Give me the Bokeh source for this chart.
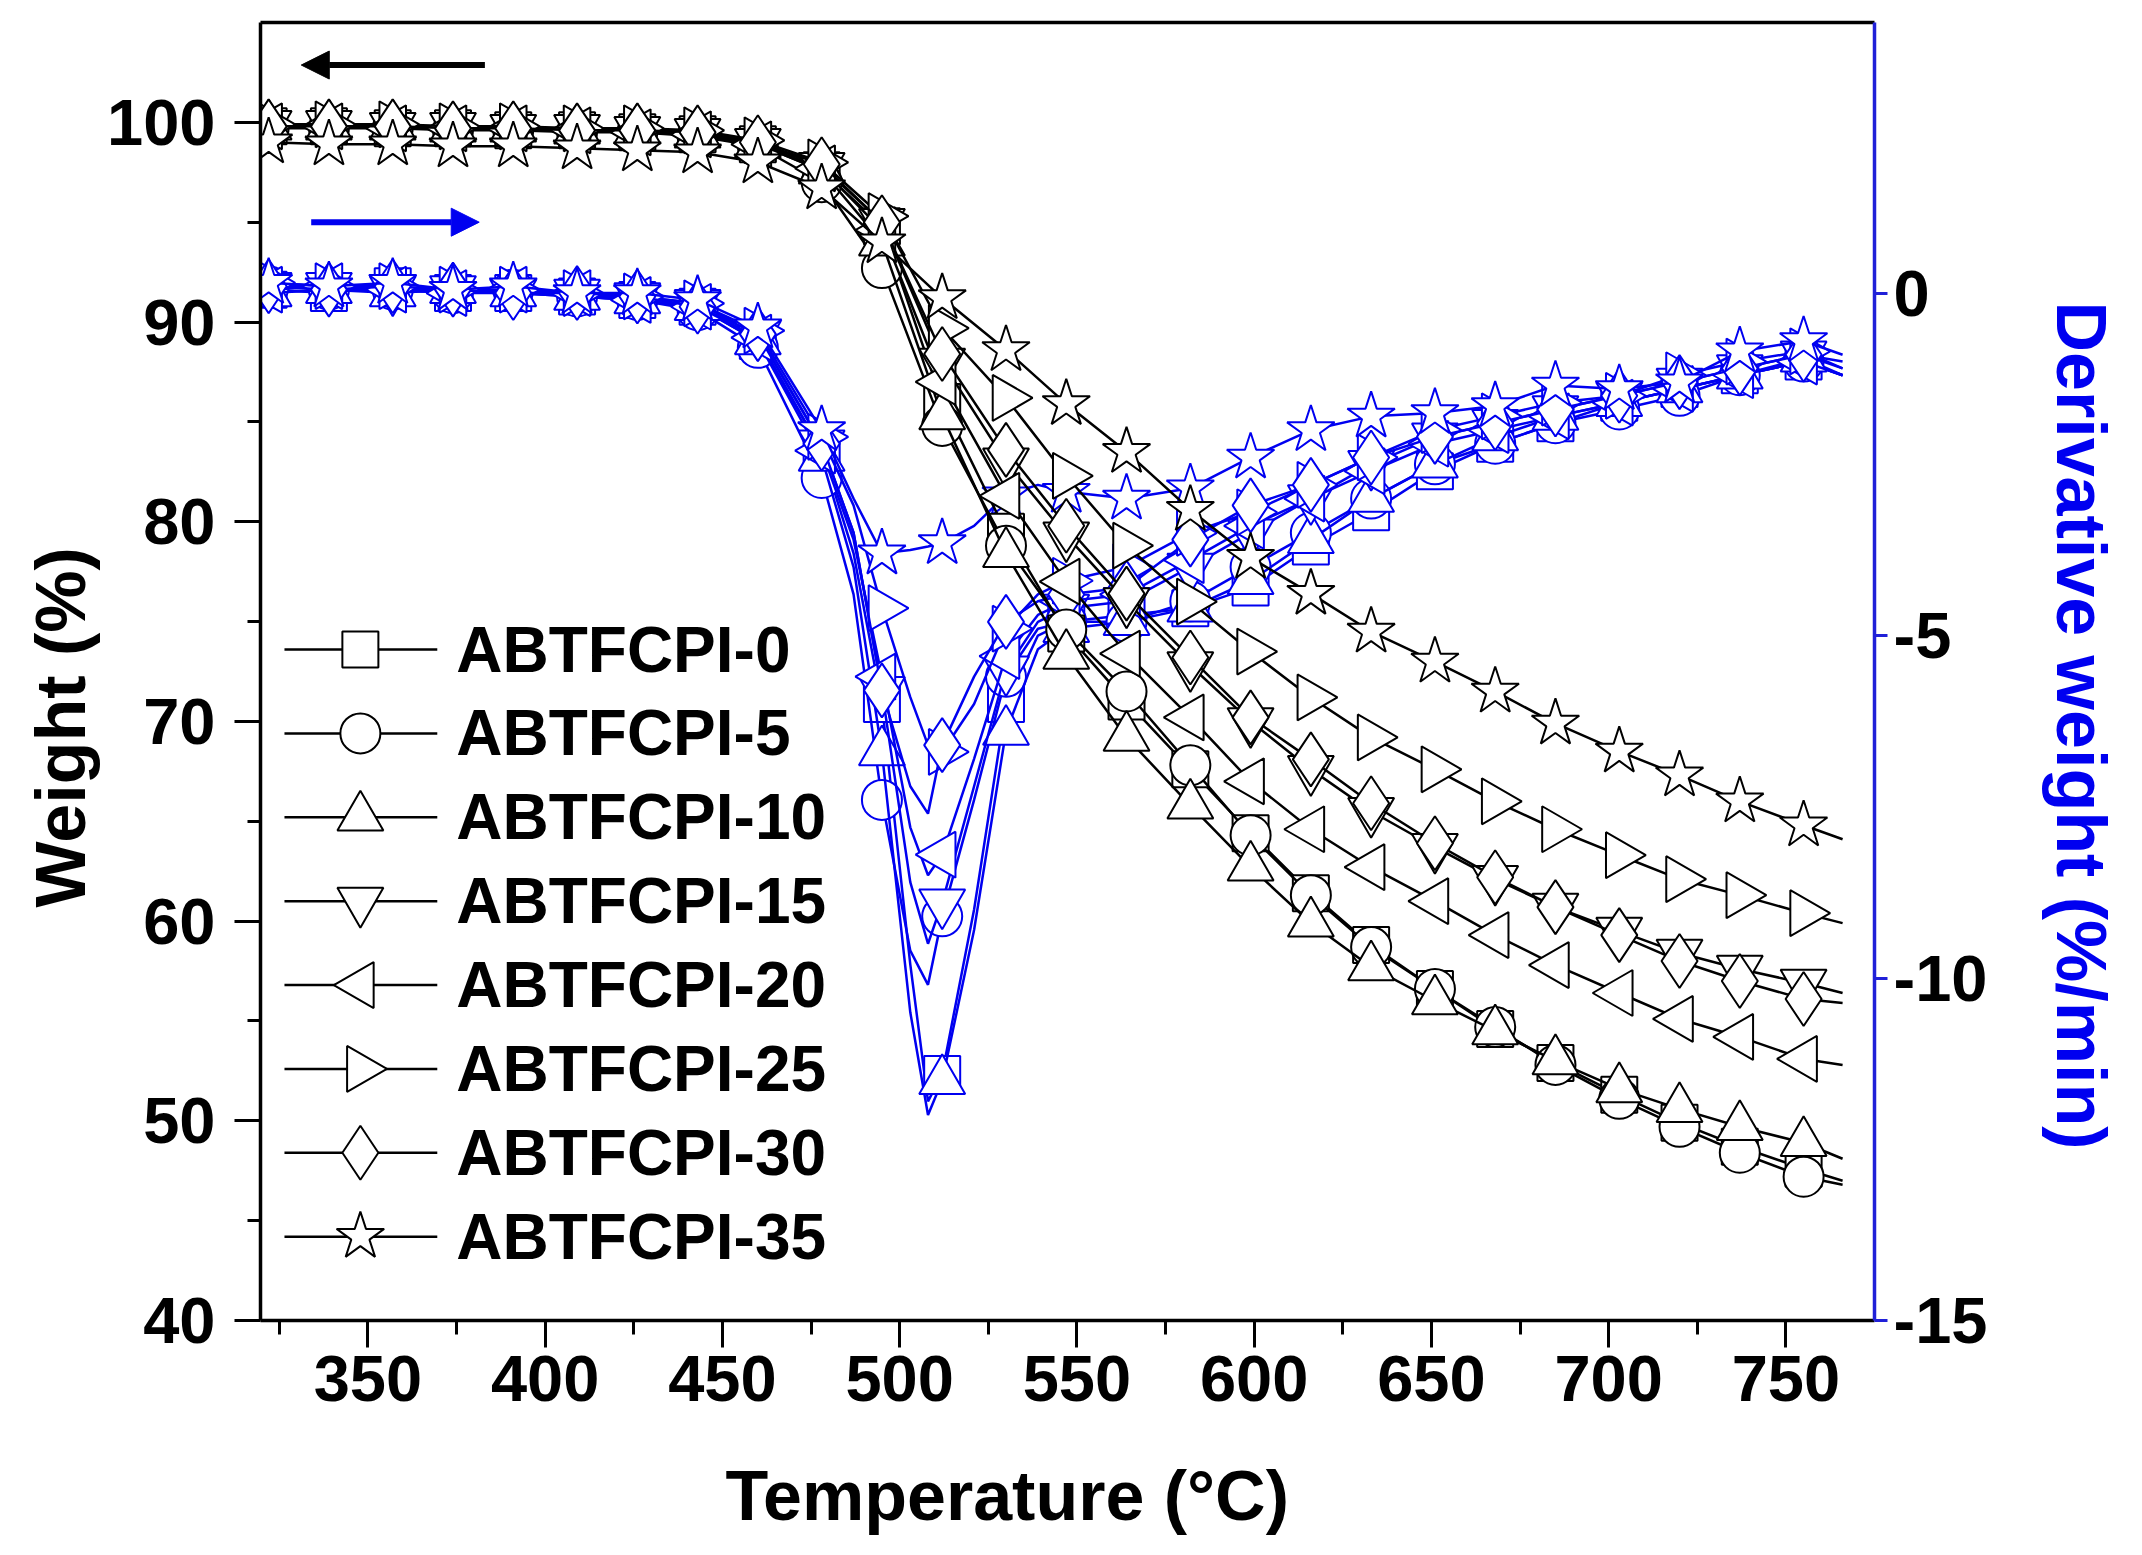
import math
from bokeh.plotting import figure
from bokeh.models import (Range1d, LinearAxis, FixedTicker, Arrow, NormalHead, Title)
from bokeh.core.properties import value
from bokeh.embed import file_html
from bokeh.resources import INLINE

# temperatures (deg C) where markers sit, plus the last point of each line
temp = [322, 339, 357, 374, 391, 409, 426, 443, 460, 478, 495, 512, 530, 547,
        564, 582, 599, 616, 633, 651, 668, 685, 703, 720, 737, 755]
temp_line = temp + [766]

# weight (%) - left axis
w0 = [99.8, 99.8, 99.7, 99.7, 99.6, 99.6, 99.5, 99.4, 98.9, 97.6, 94.8, 86.0, 79.5, 74.4,
      71.0, 67.6, 64.4, 61.4, 58.8, 56.6, 54.6, 52.9, 51.3, 49.9, 48.7, 47.6, 47.0]
w5 = [99.7, 99.7, 99.7, 99.6, 99.6, 99.5, 99.5, 99.3, 98.8, 97.0, 92.7, 84.8, 78.8, 74.6,
      71.5, 67.8, 64.3, 61.3, 58.7, 56.6, 54.7, 52.8, 51.1, 49.7, 48.4, 47.2, 46.8]
w10 = [99.8, 99.8, 99.8, 99.7, 99.7, 99.6, 99.6, 99.4, 98.9, 97.6, 94.0, 85.3, 78.4, 73.3,
       69.2, 65.8, 62.7, 59.9, 57.7, 56.0, 54.5, 53.0, 51.6, 50.6, 49.7, 48.9, 48.1]
w15 = [99.9, 99.9, 99.8, 99.8, 99.7, 99.7, 99.6, 99.5, 99.0, 97.8, 95.0, 88.0, 83.0, 79.3,
       76.0, 72.8, 70.0, 67.6, 65.5, 63.7, 62.1, 60.7, 59.5, 58.4, 57.6, 56.9, 56.4]
w20 = [99.8, 99.8, 99.7, 99.7, 99.7, 99.6, 99.5, 99.4, 98.9, 97.7, 94.6, 87.0, 81.3, 77.0,
       73.4, 70.2, 67.0, 64.6, 62.7, 61.0, 59.3, 57.8, 56.4, 55.1, 54.2, 53.1, 52.8]
w25 = [99.9, 99.9, 99.9, 99.8, 99.8, 99.7, 99.7, 99.6, 99.1, 98.0, 95.3, 89.7, 86.2, 82.3,
       78.8, 76.0, 73.5, 71.2, 69.2, 67.6, 66.0, 64.6, 63.3, 62.1, 61.3, 60.4, 59.9]
w30 = [99.8, 99.8, 99.8, 99.7, 99.7, 99.6, 99.6, 99.5, 99.0, 97.9, 95.0, 88.4, 83.6, 79.8,
       76.4, 73.2, 70.2, 68.1, 65.9, 63.9, 62.2, 60.7, 59.3, 58.0, 57.0, 56.1, 55.9]
w35 = [99.0, 98.9, 98.9, 98.8, 98.8, 98.7, 98.6, 98.5, 98.0, 96.7, 94.0, 91.2, 88.6, 85.9,
       83.5, 80.6, 78.2, 76.4, 74.5, 73.0, 71.5, 69.9, 68.5, 67.3, 66.0, 64.8, 64.1]

# derivative weight (%/min) - right axis, extra points around the peak
temp_d = [322, 339, 357, 374, 391, 409, 426, 443, 460, 478, 487, 495, 503, 508, 512, 521,
          530, 539, 547, 564, 582, 599, 616, 633, 651, 668, 685, 703, 720, 737, 755, 766]
d0 = [0.05, 0.0, 0.1, 0.0, 0.0, -0.05, -0.1, -0.2, -0.7, -2.3, -3.8, -6.0, -9.8, -11.8, -11.4,
      -9.0, -6.0, -5.0, -4.8, -4.7, -4.6, -4.3, -3.7, -3.2, -2.6, -2.2, -1.9, -1.6, -1.4, -1.2,
      -1.0, -1.2]
d5 = [0.1, 0.05, 0.05, 0.0, 0.05, -0.05, -0.1, -0.25, -0.8, -2.7, -4.4, -7.4, -9.6, -10.1, -9.1,
      -7.4, -5.6, -4.9, -4.8, -4.8, -4.5, -4.0, -3.5, -3.0, -2.5, -2.2, -1.9, -1.7, -1.5, -1.2,
      -1.0, -1.2]
d10 = [0.0, 0.05, 0.0, 0.05, 0.0, -0.05, -0.1, -0.2, -0.7, -2.4, -4.0, -6.7, -10.5, -12.0, -11.5,
       -9.3, -6.4, -5.2, -4.9, -4.8, -4.6, -4.2, -3.6, -3.0, -2.5, -2.1, -1.8, -1.6, -1.4, -1.2,
       -0.95, -1.2]
d15 = [0.1, 0.1, 0.05, 0.05, 0.0, 0.0, -0.05, -0.15, -0.6, -2.2, -3.5, -5.8, -8.6, -9.5, -8.9,
       -7.2, -5.5, -4.8, -4.6, -4.5, -4.0, -3.5, -3.0, -2.5, -2.1, -1.9, -1.7, -1.5, -1.3, -1.1,
       -0.9, -1.1]
d20 = [0.05, 0.1, 0.05, 0.0, 0.05, 0.0, -0.1, -0.2, -0.65, -2.3, -3.6, -5.6, -7.8, -8.5, -8.2,
       -6.8, -5.3, -4.7, -4.5, -4.4, -3.9, -3.4, -3.0, -2.6, -2.2, -2.0, -1.8, -1.6, -1.4, -1.2,
       -1.0, -1.2]
d25 = [0.15, 0.1, 0.1, 0.05, 0.05, 0.0, -0.05, -0.15, -0.55, -2.1, -3.1, -4.6, -5.9, -6.6, -6.7,
       -6.0, -4.9, -4.4, -4.2, -4.0, -3.5, -3.2, -2.8, -2.4, -2.0, -1.8, -1.6, -1.5, -1.2, -1.0,
       -0.85, -1.1]
d30 = [0.1, 0.05, 0.1, 0.05, 0.0, 0.0, -0.05, -0.2, -0.6, -2.2, -3.5, -5.8, -7.2, -7.6, -6.6,
       -5.6, -4.8, -4.5, -4.4, -4.3, -3.6, -3.1, -2.8, -2.4, -2.1, -1.9, -1.7, -1.5, -1.3, -1.1,
       -0.9, -1.0]
d35 = [0.15, 0.1, 0.15, 0.05, 0.1, 0.0, 0.0, -0.1, -0.5, -2.0, -3.0, -3.8, -3.75, -3.7, -3.65,
       -3.4, -2.95, -2.8, -2.9, -3.0, -2.85, -2.4, -2.0, -1.8, -1.75, -1.65, -1.35, -1.4, -1.3,
       -0.85, -0.7, -0.9]

labels = ["ABTFCPI-0", "ABTFCPI-5", "ABTFCPI-10", "ABTFCPI-15",
          "ABTFCPI-20", "ABTFCPI-25", "ABTFCPI-30", "ABTFCPI-35"]
weights = [w0, w5, w10, w15, w20, w25, w30, w35]
derivs = [d0, d5, d10, d15, d20, d25, d30, d35]

# marker style per sample: (marker, angle, size)
styles = [("square", 0, 36), ("circle", 0, 40), ("triangle", 0, 46),
          ("inverted_triangle", 0, 46), ("triangle", math.pi / 2, 46),
          ("triangle", -math.pi / 2, 46), ("diamond", 0, 54), ("star", 0, 50)]

BLUE = "#0000f0"
FONT = "Liberation Sans"
FRAME_W, FRAME_H = 1616, 1300

p = figure(width=2126, height=1539, output_backend="svg", toolbar_location=None,
           x_range=Range1d(319.7, 775), y_range=Range1d(40, 105),
           min_border_left=260, min_border_right=250, min_border_top=22,
           min_border_bottom=217)
p.extra_y_ranges = {"d": Range1d(-15, 3.95), "ly": Range1d(0, FRAME_H)}
p.extra_x_ranges = {"lx": Range1d(0, FRAME_W)}
p.outline_line_color = None
p.xgrid.grid_line_color = None
p.ygrid.grid_line_color = None
p.background_fill_color = "white"
p.border_fill_color = "white"

# derivative curves first (blue)
for d, (mk, ang, sz) in zip(derivs, styles):
    p.line(temp_d, d, y_range_name="d", line_color=BLUE, line_width=2.5)
    mx = [t for t in temp_d if t in temp]
    my = [v for t, v in zip(temp_d, d) if t in temp]
    p.scatter(mx, my, marker=mk, angle=ang, size=sz, y_range_name="d",
              line_color=BLUE, line_width=2, fill_color="white")

# weight curves (black)
for w, (mk, ang, sz) in zip(weights, styles):
    p.line(temp_line, w, line_color="black", line_width=2.5)
    p.scatter(temp, w[:len(temp)], marker=mk, angle=ang, size=sz,
              line_color="black", line_width=2, fill_color="white")

# legend drawn by hand in frame pixels (bokeh's legend ignores marker angle)
leg_top, leg_step = 672, 84
leg_y = [leg_top - leg_step * k for k in range(len(labels))]
for yk, (mk, ang, sz) in zip(leg_y, styles):
    p.line([24, 177], [yk, yk], x_range_name="lx", y_range_name="ly",
           line_color="black", line_width=2.5)
    p.scatter([100], [yk], marker=mk, angle=ang, size=sz, x_range_name="lx",
              y_range_name="ly", line_color="black", line_width=2, fill_color="white")
p.text(x=[196] * len(labels), y=leg_y, text=labels, x_range_name="lx", y_range_name="ly",
       text_font=value(FONT), text_font_style="bold", text_font_size="64px",
       text_baseline="middle", text_align="left", text_color="black")


def style_axis(ax, tick_out, minor_out, standoff, color="black"):
    ax.axis_line_width = 3.5
    ax.axis_line_color = color
    ax.major_tick_line_color = color
    ax.minor_tick_line_color = color
    ax.major_tick_line_width = 3
    ax.minor_tick_line_width = 3
    ax.major_tick_in = 0
    ax.minor_tick_in = 0
    ax.major_tick_out = tick_out
    ax.minor_tick_out = minor_out
    ax.major_label_standoff = standoff
    ax.major_label_text_font = FONT
    ax.major_label_text_font_style = "bold"
    ax.major_label_text_font_size = "65px"
    ax.major_label_text_color = "black"


def spacer(px, tick, y_range_name="default"):
    # an axis with one invisible tick: it only pushes the title further out
    ax = LinearAxis(ticker=FixedTicker(ticks=[tick], minor_ticks=[]),
                    y_range_name=y_range_name)
    ax.axis_line_color = None
    ax.major_tick_line_color = None
    ax.major_tick_out = px
    ax.major_tick_in = 0
    ax.minor_tick_out = 0
    ax.major_label_standoff = 0
    ax.major_label_overrides = {tick: ""}
    ax.major_label_text_font_size = "0px"
    return ax


xa = p.xaxis[0]
xa.ticker = FixedTicker(ticks=[350, 400, 450, 500, 550, 600, 650, 700, 750],
                        minor_ticks=[325, 375, 425, 475, 525, 575, 625, 675, 725])
style_axis(xa, 27, 14, 8)

ya = p.yaxis[0]
ya.ticker = FixedTicker(ticks=[40, 50, 60, 70, 80, 90, 100],
                        minor_ticks=[45, 55, 65, 75, 85, 95])
style_axis(ya, 26, 13, 19)

ra = LinearAxis(y_range_name="d",
                ticker=FixedTicker(ticks=[-15, -10, -5, 0], minor_ticks=[]))
style_axis(ra, 13, 0, 6, color="#2020d8")
ra.major_label_overrides = {-15: "-15", -10: "-10", -5: "-5", 0: "0"}
p.add_layout(ra, "right")

ta = LinearAxis(ticker=FixedTicker(ticks=[], minor_ticks=[]))
ta.axis_line_width = 3.5
ta.major_tick_out = 0
ta.minor_tick_out = 0
ta.major_label_text_font_size = "0px"
p.add_layout(ta, "above")


# axis titles as side titles, so they can sit off-centre like the original
def side_title(text, offset, color="black"):
    return Title(text=text, align="left", offset=offset, text_font=FONT,
                 text_font_style="bold", text_font_size="70px", text_color=color)


p.add_layout(spacer(46, 500), "below")
p.add_layout(side_title("Temperature (°C)", 465), "below")
p.add_layout(side_title("Weight (%)", 413), "left")
p.add_layout(spacer(46, -5, "d"), "right")
p.add_layout(side_title("Derivative weight (%/min)", 279, BLUE), "right")

# direction arrows (which axis each family belongs to)
p.add_layout(Arrow(end=NormalHead(size=28, fill_color="black", line_color="black"),
                   x_start=383, y_start=102.87, x_end=331.2, y_end=102.87,
                   line_color="black", line_width=6))
p.add_layout(Arrow(end=NormalHead(size=28, fill_color=BLUE, line_color=BLUE),
                   x_start=334, y_start=95.0, x_end=381.4, y_end=95.0,
                   line_color=BLUE, line_width=6))

open("out.html", "w").write(file_html(p, INLINE))
